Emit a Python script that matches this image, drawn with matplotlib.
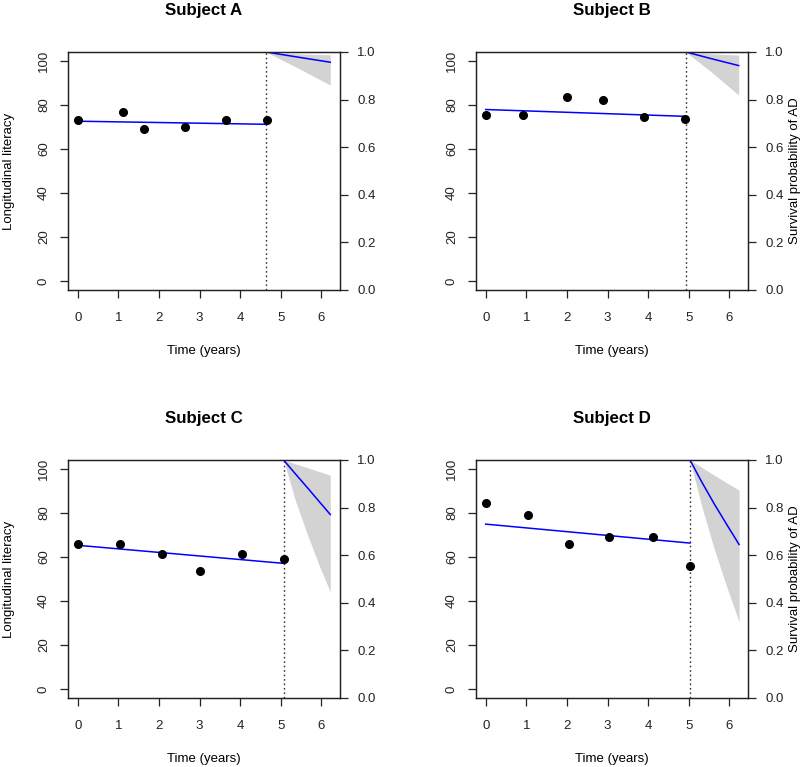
import numpy as np
import matplotlib.pyplot as plt

plt.rcParams['font.family'] = ['Liberation Sans', 'DejaVu Sans']

# --- DATA ---
subjects = ['Subject A', 'Subject B', 'Subject C', 'Subject D']

A_time = [0, 1.12, 1.64, 2.63, 3.64, 4.65]
A_lit = [73.3, 76.7, 69.0, 70.0, 73.3, 73.3]
A_fit_t = [0, 4.64]
A_fit_y = [72.6, 71.2]
A_land = 4.64
A_st = [4.64, 5.44, 6.22]
A_est = [1.0, 0.978, 0.957]
A_lo = [1.0, 0.931, 0.861]
A_hi = [1.0, 0.992, 0.988]

B_time = [0, 0.92, 1.99, 2.88, 3.91, 4.92]
B_lit = [75.6, 75.6, 83.4, 82.2, 74.5, 73.5]
B_fit_t = [0, 4.92]
B_fit_y = [77.9, 74.8]
B_land = 4.93
B_st = [4.93, 5.6, 6.23]
B_est = [1.0, 0.970, 0.943]
B_lo = [1.0, 0.910, 0.819]
B_hi = [1.0, 0.992, 0.987]

C_time = [0, 1.04, 2.08, 3.02, 4.04, 5.07]
C_lit = [65.9, 65.9, 61.5, 53.8, 61.5, 59.1]
C_fit_t = [0, 5.07]
C_fit_y = [65.3, 57.1]
C_land = 5.07
C_st = [5.07, 5.36, 5.65, 5.94, 6.22]
C_est = [1.0, 0.942, 0.885, 0.827, 0.771]
C_lo = [1.0, 0.83, 0.69, 0.56, 0.446]
C_hi = [1.0, 0.984, 0.968, 0.952, 0.936]

D_time = [0, 1.04, 2.04, 3.04, 4.11, 5.03]
D_lit = [84.4, 79.0, 65.9, 69.2, 69.2, 55.7]
D_fit_t = [0, 5.03]
D_fit_y = [74.9, 66.3]
D_land = 5.03
D_st = [5.03, 5.33, 5.63, 5.94, 6.24]
D_est = [1.0, 0.905, 0.815, 0.728, 0.645]
D_lo = [1.0, 0.80, 0.625, 0.465, 0.32]
D_hi = [1.0, 0.968, 0.936, 0.904, 0.873]

panels = [
    (A_time, A_lit, A_fit_t, A_fit_y, A_land, A_st, A_est, A_lo, A_hi),
    (B_time, B_lit, B_fit_t, B_fit_y, B_land, B_st, B_est, B_lo, B_hi),
    (C_time, C_lit, C_fit_t, C_fit_y, C_land, C_st, C_est, C_lo, C_hi),
    (D_time, D_lit, D_fit_t, D_fit_y, D_land, D_st, D_est, D_lo, D_hi),
]

# --- LAYOUT (pixel boxes of the reference, 800x767) ---
W, H = 800, 767
boxes = [(68, 52, 340, 290), (476, 52, 748, 290),
         (68, 460, 340, 698), (476, 460, 748, 698)]

fig = plt.figure(figsize=(8, 7.67), dpi=100)
fs = 9.5

for i, (name, p, b) in enumerate(zip(subjects, panels, boxes)):
    t, y, ft, fy, land, st, est, lo, hi = p
    x0, y0, x1, y1 = b
    bw, bh = x1 - x0, y1 - y0
    ax = fig.add_axes([x0 / W, 1 - y1 / H, bw / W, bh / H])

    ax.plot(t, y, 'o', color='black', markersize=5.5, zorder=3)
    ax.plot(ft, fy, color='blue', lw=1.1)
    ax.axvline(land, color='#333333', ls=(0, (1.2, 2.0)), lw=1.0)
    ax.set_xlim(-0.24, 6.46)
    ax.set_ylim(-4, 104)
    ax.set_xticks(range(7))
    ax.set_yticks(range(0, 101, 20))
    ax.tick_params(axis='x', direction='out', length=6, width=0.9,
                   pad=10, labelsize=fs, colors='#222222')
    ax.tick_params(axis='y', direction='out', length=6, width=0.9,
                   pad=7, labelsize=fs, labelrotation=90, colors='#222222')
    for lab in ax.get_yticklabels():
        lab.set_va('center')

    ax2 = ax.twinx()
    ax2.fill_between(st, lo, hi, color='#d3d3d3', lw=0)
    ax2.plot(st, est, color='blue', lw=1.1)
    ax2.set_ylim(0, 1)
    ax2.set_yticks(np.arange(0, 1.01, 0.2))
    ax2.set_yticklabels(['0.0', '0.2', '0.4', '0.6', '0.8', '1.0'])
    ax2.tick_params(axis='y', direction='out', length=6, width=0.9,
                    pad=6.5, labelsize=fs, colors='#222222')

    for a in (ax, ax2):
        for s in a.spines.values():
            s.set_linewidth(0.9)
            s.set_color('#222222')

    ax.text(0.5, 1 + 41 / bh, name, transform=ax.transAxes, ha='center',
            va='center', fontsize=12.2, fontweight='bold')
    ax.set_xlabel('Time (years)', fontsize=fs, va='center')
    ax.xaxis.set_label_coords(0.5, -61 / bh)
    if i % 2 == 0:
        ax.set_ylabel('Longitudinal literacy', fontsize=fs, va='center')
        ax.yaxis.set_label_coords(-59 / bw, 0.5)
    else:
        ax2.set_ylabel('Survival probability of AD', fontsize=fs, va='center')
        ax2.yaxis.set_label_coords(1 + 47 / bw, 0.5)

plt.savefig('out.png', dpi=100)
